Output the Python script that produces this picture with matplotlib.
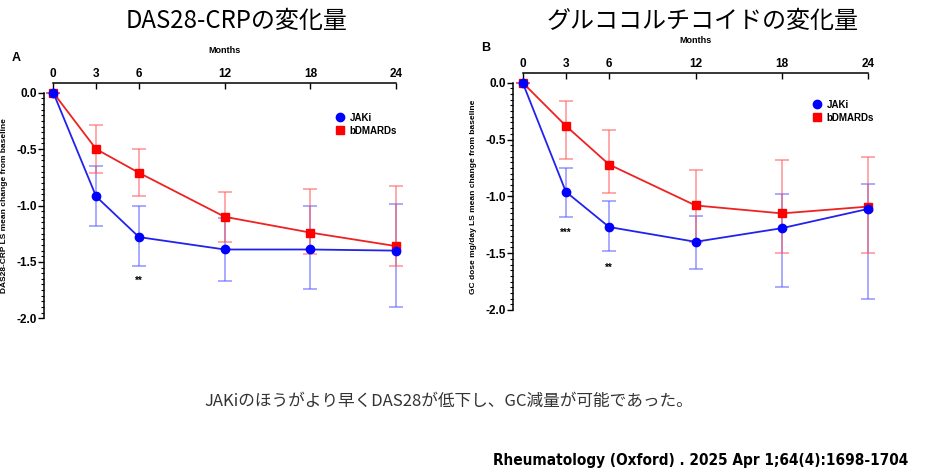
import matplotlib.pyplot as plt
from matplotlib.ticker import MultipleLocator

plt.rcParams['font.family'] = ['Liberation Sans', 'DejaVu Sans']

months = [0, 3, 6, 12, 18, 24]
month_labels = ['0', '3', '6', '12', '18', '24']

# A: DAS28-CRP
das_jaki = [0, -0.92, -1.28, -1.39, -1.39, -1.40]
das_jaki_hi = [0, -0.65, -1.00, -1.11, -1.00, -0.99]
das_jaki_lo = [0, -1.18, -1.54, -1.67, -1.74, -1.90]
das_bdm = [0, -0.50, -0.71, -1.10, -1.24, -1.36]
das_bdm_hi = [0, -0.29, -0.50, -0.88, -0.85, -0.83]
das_bdm_lo = [0, -0.71, -0.92, -1.32, -1.43, -1.54]

# B: GC dose
gc_jaki = [0, -0.96, -1.27, -1.40, -1.28, -1.11]
gc_jaki_hi = [0, -0.75, -1.04, -1.17, -0.98, -0.89]
gc_jaki_lo = [0, -1.18, -1.48, -1.64, -1.80, -1.90]
gc_bdm = [0, -0.38, -0.72, -1.08, -1.15, -1.09]
gc_bdm_hi = [0, -0.16, -0.42, -0.77, -0.68, -0.65]
gc_bdm_lo = [0, -0.67, -0.97, -1.40, -1.50, -1.50]

W, H = 926, 475
fig = plt.figure(figsize=(W / 100, H / 100), dpi=100)


def px_axes(x0, x1, y0, y1):
    return fig.add_axes([x0 / W, 1 - y1 / H, (x1 - x0) / W, (y1 - y0) / H])


def panel(ax, jaki, jhi, jlo, bdm, bhi, blo, ylabel, letter, leg_xy, stars):
    jerr = [[j - l for j, l in zip(jaki, jlo)], [h - j for j, h in zip(jaki, jhi)]]
    berr = [[b - l for b, l in zip(bdm, blo)], [h - b for b, h in zip(bdm, bhi)]]
    ax.errorbar(months, jaki, yerr=jerr, fmt='none', ecolor=(0.35, 0.35, 1.0, 0.6),
                elinewidth=1.2, capsize=5, capthick=1.2, clip_on=False, zorder=2)
    ax.errorbar(months, bdm, yerr=berr, fmt='none', ecolor=(1.0, 0.35, 0.35, 0.6),
                elinewidth=1.2, capsize=5, capthick=1.2, clip_on=False, zorder=2)
    ax.plot(months, jaki, color='#2222ee', lw=1.3, marker='o', ms=6,
            mfc='#0000ff', mec='#0000ff', label='JAKi', clip_on=False, zorder=4)
    ax.plot(months, bdm, color='#ee2222', lw=1.3, marker='s', ms=6,
            mfc='#ff0000', mec='#ff0000', label='bDMARDs', clip_on=False, zorder=3)
    ax.set_xlim(0, 24)
    ax.set_ylim(-2.0, 0.0)
    for s in ['right', 'bottom']:
        ax.spines[s].set_visible(False)
    ax.spines['left'].set_position(('outward', 7))
    ax.spines['top'].set_position(('outward', 7))
    ax.spines['left'].set_linewidth(1.1)
    ax.spines['top'].set_linewidth(1.1)
    ax.xaxis.tick_top()
    ax.xaxis.set_label_position('top')
    ax.set_xticks(months)
    ax.set_xticklabels(month_labels, fontsize=8.5, fontweight='bold')
    ax.tick_params(axis='x', direction='in', length=4, width=1.0, pad=2)
    ax.yaxis.set_minor_locator(MultipleLocator(0.05))
    ax.set_yticks([0, -0.5, -1.0, -1.5, -2.0])
    ax.set_yticklabels(['0.0', '-0.5', '-1.0', '-1.5', '-2.0'], fontsize=8.5, fontweight='bold')
    ax.tick_params(axis='y', which='major', direction='out', length=4, width=1.0, pad=1)
    ax.tick_params(axis='y', which='minor', direction='out', length=2, width=0.8)
    ax.set_xlabel('Months', fontsize=6.5, fontweight='bold', labelpad=11)
    ax.set_ylabel(ylabel, fontsize=6, fontweight='bold', labelpad=6)
    ax.text(-0.12, 1.14, letter, transform=ax.transAxes, fontsize=9, fontweight='bold')
    for x, y, s in stars:
        ax.text(x, y, s, ha='center', va='center', fontsize=7, fontweight='bold')
    ax.legend(loc='upper left', bbox_to_anchor=(leg_xy[0] / W, 1 - leg_xy[1] / H),
              bbox_transform=fig.transFigure, frameon=False,
              prop={'weight': 'bold', 'size': 7}, handlelength=1.0,
              handletextpad=0.5, labelspacing=0.3, borderpad=0)
    for leg_line in ax.get_legend().get_lines():
        leg_line.set_linestyle('none')


axA = px_axes(53.3, 396, 92.7, 318.3)
panel(axA, das_jaki, das_jaki_hi, das_jaki_lo, das_bdm, das_bdm_hi, das_bdm_lo,
      'DAS28-CRP LS mean change from baseline', 'A', (330, 108), [(6, -1.67, '**')])

axB = px_axes(522.7, 868.3, 82.7, 310)
panel(axB, gc_jaki, gc_jaki_hi, gc_jaki_lo, gc_bdm, gc_bdm_hi, gc_bdm_lo,
      'GC dose mg/day LS mean change from baseline', 'B', (807, 95),
      [(3, -1.32, '***'), (6, -1.63, '**')])

jp = ['Noto Sans CJK JP', 'DejaVu Sans']
fig.text(237 / W, 1 - 21 / H, 'DAS28-CRPの変化量', ha='center', va='center',
         fontsize=17.3, family=jp)
fig.text(703 / W, 1 - 21 / H, 'グルココルチコイドの変化量', ha='center', va='center',
         fontsize=17.3, family=jp)
fig.text(449 / W, 1 - 401 / H, 'JAKiのほうがより早くDAS28が低下し、GC減量が可能であった。',
         ha='center', va='center', fontsize=12, color='#333333', family=jp)
fig.text(908 / W, 1 - 461 / H, 'Rheumatology (Oxford) . 2025 Apr 1;64(4):1698-1704',
         ha='right', va='center', fontsize=11, fontweight='bold',
         fontstretch='condensed', family=['DejaVu Sans'])

fig.savefig('out.png', dpi=100)
